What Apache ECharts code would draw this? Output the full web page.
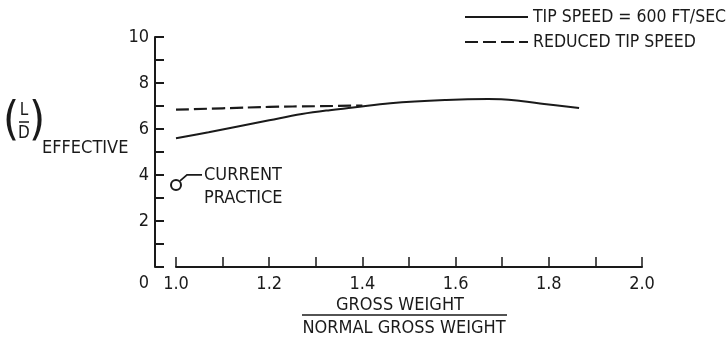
<!DOCTYPE html>
<html>
<head>
<meta charset="utf-8">
<script src="https://cdn.jsdelivr.net/npm/echarts@6/dist/echarts.min.js"></script>
<style>
html,body{margin:0;padding:0;background:#fff;}
#chart{width:728px;height:340px;}
</style>
</head>
<body>
<div id="chart"></div>
<script>
// ---- data ----
var solidX = [1.0, 1.07, 1.13, 1.2, 1.27, 1.33, 1.38, 1.46, 1.58, 1.67, 1.74, 1.79, 1.865];
var tipSpeed600 = [5.6, 5.86, 6.1, 6.38, 6.65, 6.82, 6.93, 7.12, 7.26, 7.3, 7.22, 7.09, 6.91];
var dashedX = [1.0, 1.1, 1.2, 1.3, 1.4];
var reducedTipSpeed = [6.84, 6.9, 6.96, 6.99, 7.02];
var currentPracticeX = [1.0];
var currentPracticeY = [3.57];
var yTickLabels = [2, 4, 6, 8, 10];
var xTickLabels = [1.0, 1.2, 1.4, 1.6, 1.8, 2.0];
var seriesNames = ['TIP SPEED = 600 FT/SEC', 'REDUCED TIP SPEED'];

function zip(a, b) { return a.map(function (v, i) { return [v, b[i]]; }); }

var FONT = '"Liberation Sans Narrow", "DejaVu Sans Condensed", "Liberation Sans", sans-serif';
var INK = '#1a1a1a';

var chart = echarts.init(document.getElementById('chart'), null, { renderer: 'canvas' });

var option = {
  animation: false,
  backgroundColor: '#fff',
  grid: { left: 176, right: 86, top: 37, bottom: 73, containLabel: false },
  legend: {
    orient: 'vertical',
    left: 464,
    top: 8,
    padding: 0,
    itemWidth: 63,
    itemHeight: 14,
    itemGap: 7,
    data: seriesNames,
    itemStyle: { opacity: 0 },
    textStyle: { fontFamily: FONT, fontSize: 17.5, color: INK }
  },
  xAxis: {
    type: 'value',
    min: 1.0,
    max: 2.0,
    interval: 0.1,
    axisLine: { show: true, lineStyle: { color: INK, width: 2 } },
    axisTick: { show: true, inside: true, length: 10, lineStyle: { color: INK, width: 1.5 } },
    splitLine: { show: false },
    axisLabel: {
      margin: 8,
      fontFamily: FONT, fontSize: 18, color: INK,
      formatter: function (v) {
        for (var i = 0; i < xTickLabels.length; i++) {
          if (Math.abs(v - xTickLabels[i]) < 1e-6) return xTickLabels[i].toFixed(1);
        }
        return '';
      }
    }
  },
  yAxis: {
    type: 'value',
    min: 0,
    max: 10,
    interval: 1,
    offset: 21,
    axisLine: { show: true, lineStyle: { color: INK, width: 2 } },
    axisTick: { show: true, inside: true, length: 9, lineStyle: { color: INK, width: 2 } },
    splitLine: { show: false },
    axisLabel: {
      margin: 6,
      fontFamily: FONT, fontSize: 18, color: INK,
      formatter: function (v) {
        return yTickLabels.indexOf(Math.round(v)) >= 0 ? String(Math.round(v)) : '';
      }
    }
  },
  series: [
    {
      name: seriesNames[0],
      type: 'line',
      data: zip(solidX, tipSpeed600),
      smooth: 0.4,
      symbol: 'none',
      lineStyle: { color: INK, width: 2 },
      itemStyle: { color: 'rgba(0,0,0,0)' },
      z: 3
    },
    {
      name: seriesNames[1],
      type: 'line',
      data: zip(dashedX, reducedTipSpeed),
      smooth: true,
      symbol: 'none',
      lineStyle: { color: INK, width: 2.2, type: [13, 5] },
      itemStyle: { color: 'rgba(0,0,0,0)' },
      z: 2
    },
    {
      name: 'CURRENT PRACTICE',
      type: 'scatter',
      data: zip(currentPracticeX, currentPracticeY),
      symbol: 'circle',
      symbolSize: 10,
      clip: false,
      itemStyle: { color: '#fff', borderColor: INK, borderWidth: 2, opacity: 1 },
      z: 5
    }
  ]
};

chart.setOption(option);

var p = chart.convertToPixel({ gridIndex: 0 }, [currentPracticeX[0], currentPracticeY[0]]);

chart.setOption({
  graphic: [
    // y-axis title (L/D) EFFECTIVE
    { type: 'text', x: 11, y: 122, style: { text: '(', font: '300 46px "DejaVu Sans Condensed", sans-serif', fill: INK, align: 'center', verticalAlign: 'middle' } },
    { type: 'text', x: 24, y: 111, style: { text: 'L', font: '17px ' + FONT, fill: INK, align: 'center', verticalAlign: 'middle' } },
    { type: 'line', shape: { x1: 19, y1: 122, x2: 29, y2: 122 }, style: { stroke: INK, lineWidth: 1.5 } },
    { type: 'text', x: 24, y: 134, style: { text: 'D', font: '17px ' + FONT, fill: INK, align: 'center', verticalAlign: 'middle' } },
    { type: 'text', x: 37, y: 122, style: { text: ')', font: '300 46px "DejaVu Sans Condensed", sans-serif', fill: INK, align: 'center', verticalAlign: 'middle' } },
    { type: 'text', x: 42, y: 148, style: { text: 'EFFECTIVE', font: '18px ' + FONT, fill: INK, align: 'left', verticalAlign: 'middle' } },
    // origin "0"
    { type: 'text', x: 144, y: 283, style: { text: '0', font: '18px ' + FONT, fill: INK, align: 'center', verticalAlign: 'middle' } },
    // x-axis title as a ratio
    { type: 'text', x: 400, y: 305, style: { text: 'GROSS WEIGHT', font: '18px ' + FONT, fill: INK, align: 'center', verticalAlign: 'middle' } },
    { type: 'line', shape: { x1: 302, y1: 315, x2: 507, y2: 315 }, style: { stroke: INK, lineWidth: 1.5 } },
    { type: 'text', x: 404, y: 328, style: { text: 'NORMAL GROSS WEIGHT', font: '18px ' + FONT, fill: INK, align: 'center', verticalAlign: 'middle' } },
    // current practice annotation
    { type: 'polyline', shape: { points: [[p[0] + 4, p[1] - 4], [p[0] + 11, p[1] - 10], [p[0] + 26, p[1] - 10]] }, style: { stroke: INK, lineWidth: 1.8, fill: null } },
    { type: 'text', x: p[0] + 28, y: p[1] - 10, style: { text: 'CURRENT', font: '18px ' + FONT, fill: INK, align: 'left', verticalAlign: 'middle' } },
    { type: 'text', x: p[0] + 28, y: p[1] + 13, style: { text: 'PRACTICE', font: '18px ' + FONT, fill: INK, align: 'left', verticalAlign: 'middle' } }
  ]
});
</script>
</body>
</html>
